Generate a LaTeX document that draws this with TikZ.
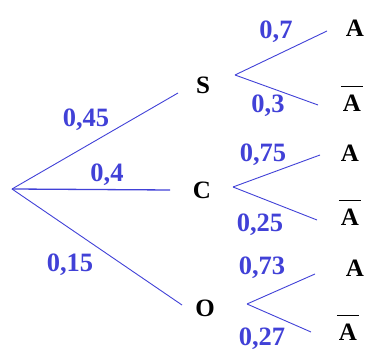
\documentclass[tikz,border=0pt]{standalone}
\usepackage{fontspec}
\setmainfont{Liberation Serif}
\definecolor{pb}{RGB}{65,65,215}
\begin{document}
\begin{tikzpicture}[x=1pt,y=1pt,
 br/.style={draw=pb, line width=0.9pt},
 prob/.style={text=pb, font=\fontsize{26.5}{26.5}\selectfont\bfseries, inner sep=0pt},
 ev/.style={font=\fontsize{25}{25}\selectfont\bfseries, inner sep=0pt},
 barline/.style={draw=black, line width=1pt}]
\useasboundingbox (0,0) rectangle (366,352);
% first level
\coordinate (r) at (12,163);
\coordinate (sE) at (178,259);
\coordinate (cE) at (170,162);
\coordinate (oE) at (182,47);
\node[ev] (S) at (203,267) {S};
\node[ev] (C) at (202,162) {C};
\node[ev] (O) at (205,44) {O};
\draw[br] (r) -- (sE);
\draw[br, line width=1.3pt] (r) -- (cE);
\draw[br] (r) -- (oE);
\node[prob] (p1) at (86,232) {0,45};
\node[prob] (p2) at (107,177) {0,4};
\node[prob] (p3) at (70,87) {0,15};
% S branch
\coordinate (sO) at (235,277);
\coordinate (sU) at (327,321);
\coordinate (sL) at (318,247);
\draw[br] (sO) -- (sU);
\draw[br] (sO) -- (sL);
\node[prob] (q1) at (276,320) {0,7};
\node[prob] (q2) at (268,246) {0,3};
\node[ev] (a1) at (355,324) {A};
\node[ev] (b1) at (352,249) {A};
\draw[barline] ([xshift=-2pt,yshift=8pt]b1.north west) -- ([xshift=2pt,yshift=8pt]b1.north east);
% C branch
\coordinate (cO) at (233,165);
\coordinate (cU) at (320,197);
\coordinate (cL) at (317,132);
\draw[br] (cO) -- (cU);
\draw[br] (cO) -- (cL);
\node[prob] (q3) at (263,197) {0,75};
\node[prob] (q4) at (260,127) {0,25};
\node[ev] (a2) at (350,199) {A};
\node[ev] (b2) at (350,135) {A};
\draw[barline] ([xshift=-2pt,yshift=8pt]b2.north west) -- ([xshift=2pt,yshift=8pt]b2.north east);
% O branch
\coordinate (oO) at (247,48);
\coordinate (oU) at (315,78);
\coordinate (oL) at (311,20);
\draw[br] (oO) -- (oU);
\draw[br] (oO) -- (oL);
\node[prob] (q5) at (262,84) {0,73};
\node[prob, anchor=south] (q6) at (262,2) {0,27};
\node[ev] (a3) at (355,84) {A};
\node[ev] (b3) at (348,20) {A};
\draw[barline] ([xshift=-2pt,yshift=8pt]b3.north west) -- ([xshift=2pt,yshift=8pt]b3.north east);
\end{tikzpicture}
\end{document}
